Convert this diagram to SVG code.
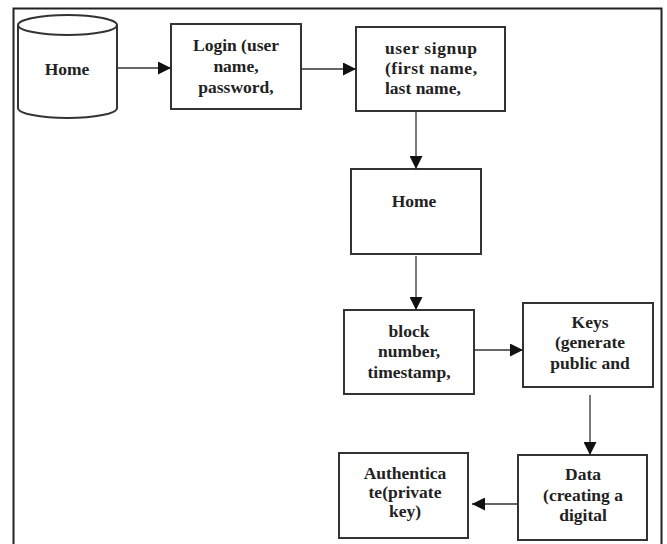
<svg xmlns="http://www.w3.org/2000/svg" width="667" height="544" viewBox="0 0 667 544">
<defs>
<style>
.box{fill:#fff;stroke:#333;stroke-width:2}
.t{font-family:"Liberation Serif","Times New Roman",serif;font-weight:bold;font-size:17.5px;fill:#222;text-anchor:middle}
.tl{text-anchor:start}
.c{stroke:#333;stroke-width:1.3;fill:none;marker-end:url(#ah)}
</style>
<marker id="ah" viewBox="0 0 10 10" refX="10" refY="5" markerWidth="13" markerHeight="13" markerUnits="userSpaceOnUse" orient="auto">
<path d="M0,0 L10,5 L0,10 Z" fill="#111"/>
</marker>
</defs>
<rect width="667" height="544" fill="#fff"/>
<path d="M13.5,546 V8.5 H661.5 V546" fill="none" stroke="#222" stroke-width="2"/>
<g id="home1">
<path class="box" d="M18,25 A49.5,10 0 0 1 117,25 V108 A49.5,10 0 0 1 18,108 Z"/>
<path d="M18,25 A49.5,10 0 0 0 117,25" fill="none" stroke="#333" stroke-width="2"/>
<text class="t" x="67" y="75">Home</text>
</g>
<g id="login">
<rect class="box" x="171" y="24" width="130" height="85"/>
<text class="t" x="236" y="51">Login (user</text>
<text class="t" x="236" y="72">name,</text>
<text class="t" x="236" y="93">password,</text>
</g>
<g id="signup">
<rect class="box" x="356" y="27" width="149" height="84"/>
<text class="t tl" x="385" y="54" textLength="92" lengthAdjust="spacing">user signup</text>
<text class="t tl" x="385" y="74" textLength="92" lengthAdjust="spacing">(first name,</text>
<text class="t tl" x="385" y="94">last name,</text>
</g>
<g id="home2">
<rect class="box" x="351" y="169" width="130" height="85"/>
<text class="t" x="414" y="207">Home</text>
</g>
<g id="block">
<rect class="box" x="344" y="310" width="130" height="84"/>
<text class="t" x="409" y="337">block</text>
<text class="t" x="409" y="357">number,</text>
<text class="t" x="409" y="378">timestamp,</text>
</g>
<g id="keys">
<rect class="box" x="523" y="303" width="130" height="84"/>
<text class="t" x="590" y="328">Keys</text>
<text class="t" x="590" y="348">(generate</text>
<text class="t" x="590" y="369">public and</text>
</g>
<g id="data">
<rect class="box" x="518" y="455" width="129" height="85"/>
<text class="t" x="583" y="480">Data</text>
<text class="t" x="583" y="501">(creating a</text>
<text class="t" x="583" y="521">digital</text>
</g>
<g id="auth">
<rect class="box" x="339" y="453" width="129" height="85"/>
<text class="t" x="405" y="479">Authentica</text>
<text class="t" x="405" y="498">te(private</text>
<text class="t" x="405" y="517">key)</text>
</g>
<g id="connectors">
<line class="c" x1="117" y1="68" x2="171" y2="68"/>
<line class="c" x1="301" y1="69" x2="356" y2="69"/>
<line class="c" x1="416" y1="111" x2="416" y2="169"/>
<line class="c" x1="416" y1="256" x2="416" y2="310"/>
<line class="c" x1="474" y1="350" x2="523" y2="350"/>
<line class="c" x1="590" y1="395" x2="590" y2="455"/>
<line class="c" x1="518" y1="504" x2="472" y2="504"/>
</g>
</svg>
